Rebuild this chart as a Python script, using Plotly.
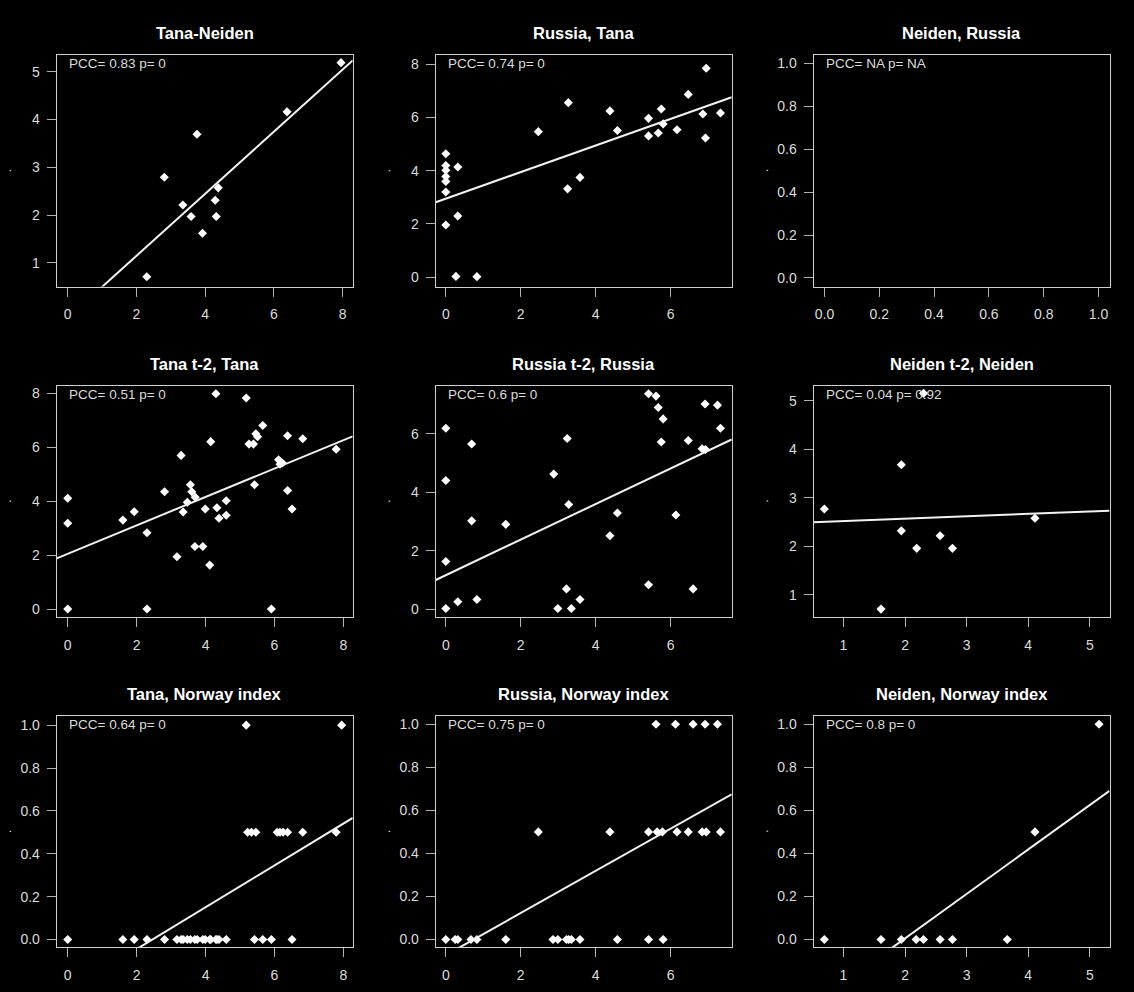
import plotly.graph_objects as go

# ---------------- data ----------------
titles = ["Tana-Neiden", "Russia, Tana", "Neiden, Russia",
          "Tana t-2, Tana", "Russia t-2, Russia", "Neiden t-2, Neiden",
          "Tana, Norway index", "Russia, Norway index", "Neiden, Norway index"]
pcc_labels = ["PCC= 0.83 p= 0", "PCC= 0.74 p= 0", "PCC= NA p= NA",
              "PCC= 0.51 p= 0", "PCC= 0.6 p= 0", "PCC= 0.04 p= 0.92",
              "PCC= 0.64 p= 0", "PCC= 0.75 p= 0", "PCC= 0.8 p= 0"]

tana_neiden_x = [2.30, 2.81, 3.35, 3.59, 3.76, 3.92, 4.29, 4.32, 4.38, 6.38, 7.95]
tana_neiden_y = [0.71, 2.79, 2.21, 1.97, 3.69, 1.62, 2.31, 1.97, 2.57, 4.16, 5.19]

russia_tana_x = [0, 0, 0, 0, 0, 0, 0, 0.32, 0.32, 0.27, 0.83, 2.47, 3.27, 3.25, 3.58,
                 4.38, 4.58, 5.41, 5.41, 5.67, 5.75, 5.80, 6.17, 6.47, 6.86, 6.93, 6.95, 7.33]
russia_tana_y = [4.64, 4.20, 4.02, 3.78, 3.60, 3.20, 1.96, 4.14, 2.30, 0.03, 0.02, 5.47, 6.56, 3.32, 3.75,
                 6.25, 5.51, 5.97, 5.31, 5.42, 6.32, 5.76, 5.54, 6.87, 6.13, 5.23, 7.85, 6.17]

neiden_russia_x = []
neiden_russia_y = []

tana_t2_x = [0, 0, 0, 1.60, 1.93, 2.30, 2.30, 2.81, 3.17, 3.29, 3.35, 3.47, 3.56, 3.60, 3.70,
             3.69, 3.92, 3.99, 4.12, 4.15, 4.30, 4.33, 4.39, 4.60, 4.60, 5.18, 5.26, 5.39, 5.42,
             5.46, 5.51, 5.66, 5.91, 6.12, 6.16, 6.23, 6.38, 6.38, 6.51, 6.82, 7.79]
tana_t2_y = [4.11, 3.18, 0.0, 3.30, 3.61, 2.83, 0.0, 4.35, 1.94, 5.70, 3.60, 3.96, 4.61, 4.35, 4.15,
             2.32, 2.32, 3.71, 1.63, 6.21, 7.99, 3.76, 3.37, 4.02, 3.48, 7.83, 6.12, 6.12, 4.61,
             6.50, 6.39, 6.81, 0.0, 5.54, 5.37, 5.42, 6.43, 4.40, 3.71, 6.32, 5.93]

russia_t2_x = [0, 0, 0, 0, 0.32, 0.69, 0.69, 0.83, 1.60, 2.88, 2.99, 3.22, 3.24, 3.28, 3.35, 3.58,
               4.38, 4.58, 5.41, 5.41, 5.61, 5.67, 5.80, 5.75, 6.14, 6.47, 6.60, 6.84, 6.92, 6.93, 7.25, 7.33]
russia_t2_y = [6.19, 4.40, 1.63, 0.02, 0.25, 5.65, 3.02, 0.33, 2.90, 4.62, 0.02, 0.69, 5.84, 3.58, 0.02, 0.33,
               2.51, 3.29, 7.37, 0.83, 7.29, 6.90, 6.51, 5.72, 3.22, 5.77, 0.69, 5.49, 7.02, 5.46, 6.98, 6.19]

neiden_t2_x = [0.69, 1.61, 1.94, 1.94, 2.19, 2.30, 2.57, 2.77, 4.11]
neiden_t2_y = [2.77, 0.71, 3.68, 2.32, 1.96, 5.15, 2.22, 1.96, 2.58]

tana_norway_x = [0, 1.60, 1.93, 2.30, 2.81, 3.17, 3.29, 3.35, 3.47, 3.56, 3.69, 3.76, 3.92, 3.99,
                 4.12, 4.15, 4.30, 4.33, 4.39, 4.60, 5.42, 5.66, 5.91, 6.51,
                 5.22, 5.33, 5.46, 6.08, 6.16, 6.25, 6.38, 6.82, 7.79,
                 5.18, 7.95]
tana_norway_y = [0.0] * 24 + [0.5] * 9 + [1.0] * 2

russia_norway_x = [0, 0.25, 0.32, 0.67, 0.83, 1.60, 2.86, 2.99, 3.22, 3.28, 3.35, 3.58, 4.58, 5.41, 5.80,
                   2.47, 4.38, 5.41, 5.64, 5.78, 6.17, 6.47, 6.84, 6.95, 7.33,
                   5.61, 6.13, 6.60, 6.92, 7.25]
russia_norway_y = [0.0] * 15 + [0.5] * 10 + [1.0] * 5

neiden_norway_x = [0.69, 1.61, 1.94, 2.18, 2.30, 2.57, 2.77, 3.66, 4.11, 5.15]
neiden_norway_y = [0.0] * 8 + [0.5, 1.0]

# fitted regression lines (intercept, slope)
fit_intercepts = [-0.153, 2.95, None, 2.05, 1.16, 2.47, -0.240, -0.073, -0.408]
fit_slopes = [0.65, 0.50, None, 0.527, 0.609, 0.05, 0.0976, 0.098, 0.2065]

panel_x = [tana_neiden_x, russia_tana_x, neiden_russia_x, tana_t2_x, russia_t2_x,
           neiden_t2_x, tana_norway_x, russia_norway_x, neiden_norway_x]
panel_y = [tana_neiden_y, russia_tana_y, neiden_russia_y, tana_t2_y, russia_t2_y,
           neiden_t2_y, tana_norway_y, russia_norway_y, neiden_norway_y]

# ---------------- axes set-up ----------------
x_ranges = [[-0.32, 8.29], [-0.27, 7.63], [-0.04, 1.04],
            [-0.32, 8.27], [-0.27, 7.63], [0.514, 5.32],
            [-0.32, 8.27], [-0.27, 7.63], [0.514, 5.32]]
y_ranges = [[0.505, 5.35], [-0.35, 8.35], [-0.04, 1.04],
            [-0.30, 8.29], [-0.275, 7.65], [0.545, 5.31],
            [-0.036, 1.044], [-0.036, 1.04], [-0.036, 1.04]]
x_ticks = [[0, 2, 4, 6, 8], [0, 2, 4, 6], [0, 0.2, 0.4, 0.6, 0.8, 1.0],
           [0, 2, 4, 6, 8], [0, 2, 4, 6], [1, 2, 3, 4, 5],
           [0, 2, 4, 6, 8], [0, 2, 4, 6], [1, 2, 3, 4, 5]]
y_ticks = [[1, 2, 3, 4, 5], [0, 2, 4, 6, 8], [0, 0.2, 0.4, 0.6, 0.8, 1.0],
           [0, 2, 4, 6, 8], [0, 2, 4, 6], [1, 2, 3, 4, 5],
           [0, 0.2, 0.4, 0.6, 0.8, 1.0], [0, 0.2, 0.4, 0.6, 0.8, 1.0], [0, 0.2, 0.4, 0.6, 0.8, 1.0]]

W, H = 1134, 992
col_left = [56.7, 435.7, 813.5]
box_w = 296
row_top = [55.0, 385.6, 715.7]
box_h = 231.5

FONT = "Liberation Sans, Arial, sans-serif"
BOX = "#d0d0d0"
TICK = "#b4b4b4"
LBL = "#dcdcdc"

fig = go.Figure()
layout = dict(
    width=W, height=H,
    paper_bgcolor="black", plot_bgcolor="black",
    margin=dict(l=0, r=0, t=0, b=0),
    showlegend=False,
    font=dict(family=FONT, color=LBL, size=14),
)
annotations = []

for k in range(9):
    r, c = divmod(k, 3)
    sfx = "" if k == 0 else str(k + 1)
    xdom = [col_left[c] / W, (col_left[c] + box_w) / W]
    ydom = [1 - (row_top[r] + box_h) / H, 1 - row_top[r] / H]
    fmt_x = ".1f" if max(x_ticks[k]) <= 1 else "d"
    fmt_y = ".1f" if max(y_ticks[k]) <= 1 else "d"
    common = dict(showline=True, mirror=True, linecolor=BOX, linewidth=1,
                  ticks="outside", ticklen=9, tickwidth=1, tickcolor=TICK,
                  showgrid=False, zeroline=False,
                  tickfont=dict(family=FONT, size=14, color=LBL), fixedrange=True)
    layout["xaxis" + sfx] = dict(domain=xdom, anchor="y" + sfx, range=x_ranges[k],
                                 tickvals=x_ticks[k], tickformat=fmt_x,
                                 ticklabelstandoff=6, **common)
    layout["yaxis" + sfx] = dict(domain=ydom, anchor="x" + sfx, range=y_ranges[k],
                                 tickvals=y_ticks[k], tickformat=fmt_y,
                                 ticklabelstandoff=4, **common)

    # markers (an empty panel still gets a trace so that its axes are drawn)
    fig.add_trace(go.Scatter(x=panel_x[k] if panel_x[k] else [None],
                             y=panel_y[k] if panel_y[k] else [None], mode="markers",
                             marker=dict(symbol="diamond", size=7, color="white"),
                             xaxis="x" + sfx, yaxis="y" + sfx, hoverinfo="skip"))
    if fit_slopes[k] is not None:
        xs = x_ranges[k]
        ys = [fit_intercepts[k] + fit_slopes[k] * v for v in xs]
        fig.add_trace(go.Scatter(x=xs, y=ys, mode="lines",
                                 line=dict(color="#f2f2f2", width=2),
                                 xaxis="x" + sfx, yaxis="y" + sfx, hoverinfo="skip"))

    xd = "x" + sfx + " domain"
    yd = "y" + sfx + " domain"
    annotations.append(dict(text="<b>" + titles[k] + "</b>", xref=xd, yref=yd,
                            x=0.5, y=1, xanchor="center", yanchor="middle", yshift=22,
                            showarrow=False, font=dict(family=FONT, size=16.5, color="white")))
    annotations.append(dict(text=pcc_labels[k], xref=xd, yref=yd,
                            x=0, y=1, xanchor="left", yanchor="middle",
                            xshift=10.5, yshift=-8.5,
                            showarrow=False, font=dict(family=FONT, size=13.5, color=LBL)))
    annotations.append(dict(text=".", xref=xd, yref=yd,
                            x=0, y=0.5, xanchor="center", yanchor="middle",
                            xshift=-50, showarrow=False, textangle=-90,
                            font=dict(family=FONT, size=13, color=LBL)))

layout["annotations"] = annotations
fig.update_layout(**layout)
fig.write_html("out.html", config={"displayModeBar": False},
               post_script="document.body.style.margin='0';")
